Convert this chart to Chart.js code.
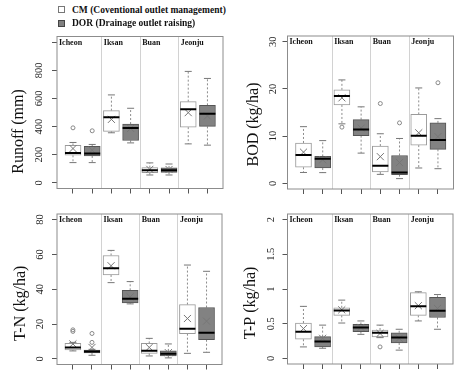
<!DOCTYPE html>
<html>
<head>
<meta charset="utf-8">
<script src="https://cdn.jsdelivr.net/npm/chart.js@4.4.1/dist/chart.umd.min.js"></script>
<style>
  html, body { margin: 0; padding: 0; background: #fff; }
  #wrap { position: relative; width: 466px; height: 387px; overflow: hidden; }
  canvas { position: absolute; }
  .lg { position: absolute; left: 58px; height: 13px; display: flex; align-items: center;
        font: bold 9.5px "Liberation Serif", serif; color: #111; white-space: nowrap; }
  .sw { width: 5px; height: 5px; border: 1px solid #777; margin-right: 7px; }
</style>
</head>
<body>
<div id="wrap">
  <canvas id="runoff" width="233" height="186" style="left:0;top:22px"></canvas>
  <canvas id="bod" width="233" height="186" style="left:233px;top:22px"></canvas>
  <canvas id="tn" width="233" height="187" style="left:0;top:200px"></canvas>
  <canvas id="tp" width="233" height="187" style="left:233px;top:200px"></canvas>
  <div class="lg" style="top:3px"><span class="sw" style="background:#fff"></span><span id="lg0"></span></div>
  <div class="lg" style="top:16.5px"><span class="sw" style="background:#808080;border-color:#444"></span><span id="lg1"></span></div>
</div>
<script>
const sites = ["Icheon", "Iksan", "Buan", "Jeonju"];
const seriesNames = ["CM (Coventional outlet management)", "DOR (Drainage outlet raising)"];

// each site: [lower whisker, Q1, median, Q3, upper whisker]
const runoffCM = [[144, 196, 213, 266, 287], [356, 366, 466, 513, 625], [56, 73, 89, 108, 142], [277, 396, 523, 577, 792]];
const runoffDOR = [[144, 191, 209, 259, 273], [284, 301, 389, 418, 530], [56, 75, 89, 106, 134], [268, 401, 491, 551, 742]];
const runoffMeanCM = [244, 451, 96, 499];
const runoffMeanDOR = [232, 387, 95, 475];
const runoffOutCM = [[391], [], [], []];
const runoffOutDOR = [[370], [], [], []];
const runoffTicks = [0, 200, 400, 600, 800, 1000];

const bodCM = [[2.3, 3.4, 6.0, 8.55, 12.0], [12.6, 16.6, 18.5, 19.8, 21.9], [1.9, 2.4, 3.7, 7.9, 10.5], [3.25, 8.1, 10.1, 14.6, 20.2]];
const bodDOR = [[2.27, 3.25, 5.2, 5.7, 9.05], [6.4, 10.1, 11.4, 13.5, 16.2], [1.0, 1.85, 2.27, 5.9, 9.5], [3.1, 7.2, 9.2, 12.8, 13.7]];
const bodMeanCM = [6.6, 18.1, 5.65, 10.7];
const bodMeanDOR = [5.0, 11.7, 4.4, 9.9];
const bodOutCM = [[], [11.9], [16.9], []];
const bodOutDOR = [[], [], [12.8], [21.3]];
const bodTicks = [0, 10, 20, 30];

const tnCM = [[4.6, 5.1, 6.6, 8.9, 9.5], [43.8, 48.2, 52, 59.4, 62.3], [1.7, 3.2, 4.7, 8.9, 11.8], [3.2, 14.5, 17.3, 31.2, 53.9]];
const tnDOR = [[2.1, 3.4, 4.2, 5.1, 5.5], [31.6, 32.2, 34.5, 39.4, 44.4], [0.6, 1.7, 3.0, 4.6, 8.6], [3.8, 11.0, 15.0, 29.5, 50.3]];
const tnMeanCM = [8.6, 53.5, 6.6, 23.2];
const tnMeanDOR = [6.6, 35.6, 3.6, 21.7];
const tnOutCM = [[15.8, 16.7], [], [], []];
const tnOutDOR = [[9.5, 14.6], [], [], []];
const tnTicks = [0, 20, 40, 60, 80];

const tpCM = [[0.166, 0.276, 0.385, 0.51, 0.75], [0.51, 0.62, 0.69, 0.73, 0.84], [0.30, 0.31, 0.37, 0.41, 0.48], [0.54, 0.62, 0.75, 0.947, 0.96]];
const tpDOR = [[0.147, 0.166, 0.243, 0.314, 0.48], [0.347, 0.385, 0.447, 0.49, 0.54], [0.12, 0.223, 0.30, 0.37, 0.42], [0.42, 0.59, 0.686, 0.88, 0.92]];
const tpMeanCM = [0.43, 0.70, 0.36, 0.76];
const tpMeanDOR = [0.29, 0.447, 0.29, 0.72];
const tpOutCM = [[], [], [0.166], []];
const tpOutDOR = [[], [], [], []];
const tpTicks = [0, 0.5, 1, 1.5, 2];

document.getElementById("lg0").textContent = seriesNames[0];
document.getElementById("lg1").textContent = seriesNames[1];

const serif = '"Liberation Serif", "Times New Roman", serif';
Chart.defaults.font.family = serif;

function boxDatasets(name, stats, means, outs, off, fill, edge) {
  const xs = stats.map((_, i) => 2 * i + off);
  const whiskers = [];
  const caps = [];
  const outliers = [];
  stats.forEach((b, i) => {
    whiskers.push({x: xs[i], y: b[3]}, {x: xs[i], y: b[4]}, {x: xs[i], y: null},
                  {x: xs[i], y: b[1]}, {x: xs[i], y: b[0]}, {x: xs[i], y: null});
    caps.push({x: xs[i], y: b[0]}, {x: xs[i], y: b[4]});
    outs[i].forEach(v => outliers.push({x: xs[i], y: v}));
  });
  return [
    {type: 'bar', label: name, data: stats.map((b, i) => ({x: xs[i], y: [b[1], b[3]]})),
     backgroundColor: fill, borderColor: edge, borderWidth: 1, borderSkipped: false,
     barThickness: 16, grouped: false, order: 5},
    {type: 'line', data: whiskers, borderColor: '#8c8c8c', borderWidth: 1, borderDash: [2, 2],
     pointRadius: 0, spanGaps: false, order: 6},
    {type: 'scatter', data: caps, pointStyle: 'line', pointRadius: 3.5,
     pointBorderColor: '#777', pointBorderWidth: 1, order: 4},
    {type: 'scatter', data: stats.map((b, i) => ({x: xs[i], y: b[2]})), pointStyle: 'line',
     pointRadius: 8, pointBorderColor: '#000', pointBorderWidth: 2, order: 1},
    {type: 'scatter', data: means.map((m, i) => ({x: xs[i], y: m})), pointStyle: 'crossRot',
     pointRadius: 5, pointBorderColor: '#777', pointBorderWidth: 1, order: 2},
    {type: 'scatter', data: outliers, pointStyle: 'circle', pointRadius: 2,
     pointBorderColor: '#888', pointBackgroundColor: 'rgba(0,0,0,0)', pointBorderWidth: 1, order: 3}
  ];
}

const panelDecor = {
  id: 'panelDecor',
  afterDraw(chart, args, opts) {
    const {ctx, chartArea: a} = chart;
    const x = chart.scales.x;
    ctx.save();
    ctx.strokeStyle = '#8c8c8c';
    ctx.lineWidth = 1;
    ctx.strokeRect(a.left, a.top, a.width, a.height);
    ctx.fillStyle = '#111';
    ctx.font = 'bold 8px ' + serif;
    ctx.textBaseline = 'top';
    sites.forEach((s, i) => {
      const left = i === 0 ? a.left : x.getPixelForValue(2 * i + 0.5);
      ctx.fillText(s, left + 2, a.top + 2);
    });
    ctx.font = '16px ' + serif;
    ctx.translate(a.left - opts.titleDx, (a.top + a.bottom) / 2 + opts.titleDy);
    ctx.rotate(-Math.PI / 2);
    ctx.textAlign = 'center';
    ctx.textBaseline = 'middle';
    ctx.fillText(opts.title, 0, 0);
    ctx.restore();
  }
};

function makePanel(id, p) {
  const ctx = document.getElementById(id).getContext('2d');
  new Chart(ctx, {
    type: 'bar',
    data: {
      datasets: [
        ...boxDatasets('CM', p.cm, p.meanCM, p.outCM, 1, '#ffffff', '#9a9a9a'),
        ...boxDatasets('DOR', p.dor, p.meanDOR, p.outDOR, 2, '#828282', '#555555')
      ]
    },
    plugins: [panelDecor],
    options: {
      responsive: false,
      animation: false,
      events: [],
      layout: { padding: { top: p.padTop, right: p.padRight, left: 0, bottom: 0 } },
      scales: {
        x: {
          type: 'linear', min: 0.167, max: 8.81, offset: false,
          afterBuildTicks: s => { s.ticks = [1, 2, 3, 4, 5, 6, 7, 8, 2.5, 4.5, 6.5].map(v => ({value: v})); },
          ticks: { autoSkip: false, callback: () => '', padding: 0 },
          grid: {
            offset: false, drawTicks: true, tickLength: 5, lineWidth: 1,
            color: c => (c.tick && c.tick.value % 1) ? '#d2d2d2' : 'rgba(0,0,0,0)',
            tickColor: c => (c.tick && c.tick.value % 1) ? 'rgba(0,0,0,0)' : '#555'
          },
          border: { display: false },
          afterFit: s => { s.height = p.xHeight; }
        },
        y: {
          type: 'linear', min: p.min, max: p.max, beginAtZero: false,
          afterBuildTicks: s => { s.ticks = p.ticks.map(v => ({value: v})); },
          ticks: {
            minRotation: 90, maxRotation: 90, crossAlign: 'center', padding: p.tickPad,
            font: { family: serif, size: 10.5 }, color: '#222',
            callback: v => (p.hide && p.hide.includes(v)) ? '' : String(v)
          },
          grid: { drawOnChartArea: false, drawTicks: true, tickLength: 5, tickColor: '#555', color: '#555' },
          border: { display: false },
          afterFit: s => { s.width = p.yWidth; }
        }
      },
      plugins: {
        legend: { display: false },
        tooltip: { enabled: false },
        panelDecor: { title: p.title, titleDx: p.titleDx, titleDy: p.titleDy }
      }
    }
  });
}

makePanel('runoff', {
  cm: runoffCM, dor: runoffDOR, meanCM: runoffMeanCM, meanDOR: runoffMeanDOR,
  outCM: runoffOutCM, outDOR: runoffOutDOR, ticks: runoffTicks, hide: [1000],
  min: -40, max: 1040, title: 'Runoff (mm)',
  padTop: 14.5, padRight: 10, yWidth: 57, xHeight: 19.5, tickPad: 4.5, titleDx: 38.5, titleDy: 19
});
makePanel('bod', {
  cm: bodCM, dor: bodDOR, meanCM: bodMeanCM, meanDOR: bodMeanDOR,
  outCM: bodOutCM, outDOR: bodOutDOR, ticks: bodTicks,
  min: -1.2, max: 31.2, title: 'BOD (kg/ha)',
  padTop: 14, padRight: 12.5, yWidth: 54.5, xHeight: 19, tickPad: 4, titleDx: 34, titleDy: 12
});
makePanel('tn', {
  cm: tnCM, dor: tnDOR, meanCM: tnMeanCM, meanDOR: tnMeanDOR,
  outCM: tnOutCM, outDOR: tnOutDOR, ticks: tnTicks,
  min: -3.2, max: 83.2, title: 'T-N (kg/ha)',
  padTop: 14, padRight: 11, yWidth: 57, xHeight: 22.5, tickPad: 6.5, titleDx: 36.5, titleDy: 14
});
makePanel('tp', {
  cm: tpCM, dor: tpDOR, meanCM: tpMeanCM, meanDOR: tpMeanDOR,
  outCM: tpOutCM, outDOR: tpOutDOR, ticks: tpTicks,
  min: -0.08, max: 2.08, title: 'T-P (kg/ha)',
  padTop: 14, padRight: 13, yWidth: 54.5, xHeight: 23, tickPad: 4.75, titleDx: 37, titleDy: 14
});
</script>
</body>
</html>
